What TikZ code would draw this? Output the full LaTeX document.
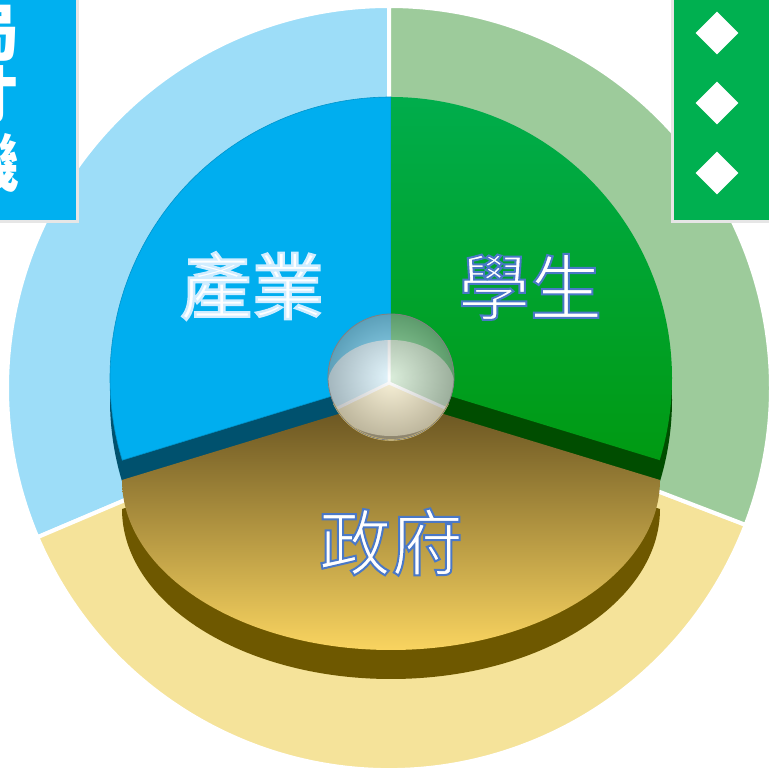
\documentclass[tikz,border=0pt]{standalone}
\usepackage{fontspec}
\usepackage{tikz}
\usepackage{xcolor}
\usetikzlibrary{shapes.geometric,positioning}
\newfontfamily\cjk{Noto Sans CJK TC}
\newcommand\outlinetext[3]{\special{pdf:literal direct #1 RG 2 Tr #2 w}#3\special{pdf:literal direct 0 Tr}}
\definecolor{ringblue}{HTML}{9DDDF8}
\definecolor{ringgreen}{HTML}{9DCB9B}
\definecolor{ringyellow}{HTML}{F5E39A}
\definecolor{boxblue}{HTML}{00B0F0}
\definecolor{boxgreen}{HTML}{00B050}
\definecolor{boxedge}{HTML}{E6E6E6}
\definecolor{bluetop}{HTML}{00AEEF}
\definecolor{blueside}{HTML}{00516E}
\definecolor{greentop}{HTML}{00AD4C}
\definecolor{greenbot}{HTML}{009A12}
\definecolor{greenside}{HTML}{004D00}
\definecolor{browntop}{HTML}{64501F}
\definecolor{brownmid}{HTML}{B39240}
\definecolor{brownbot}{HTML}{F9D460}
\definecolor{brownside}{HTML}{6E5800}
\definecolor{paleblue}{HTML}{D4F1FC}
\definecolor{palegreen}{HTML}{C6E3C6}
\definecolor{palecream}{HTML}{F8EDC6}
\definecolor{ballrim}{HTML}{E2C874}

\begin{document}
\begin{tikzpicture}[x=0.5pt,y=0.5pt,
   ringpart/.style={draw=white,line width=2pt},
   cornerbox/.style={draw=boxedge,line width=1.5pt},
   sidetext/.style={font=\cjk\bfseries\fontsize{31}{34}\selectfont,text=white,inner sep=0pt},
   marker/.style={diamond,fill=white,inner sep=0pt,minimum width=21.5pt,minimum height=21.5pt},
   pielabel/.style={font=\cjk\fontsize{36}{40}\selectfont,text=white,inner sep=0pt}]
   \useasboundingbox (0,0) rectangle (769,771);
   \coordinate (o) at (389,383);
   \coordinate (b) at (391,394);
   % outer ring
   \foreach \a/\e/\c in {90/203/ringblue,203/339/ringyellow,-21/90/ringgreen}
      \filldraw[ringpart,fill=\c] (o) -- ++(\a:382) arc[start angle=\a,end angle=\e,radius=382] -- cycle;
   % corner boxes
   \filldraw[cornerbox,fill=boxblue] (-10,549) rectangle (77,781);
   \filldraw[cornerbox,fill=boxgreen] (672,549) rectangle (780,781);
   \foreach \ch/\y [count=\i] in {局/738,才/676,機/608}
      \node[sidetext,anchor=east] (l_\i) at (20,\y) {\ch};
   \foreach \y [count=\i] in {738,668,598}
      \node[marker] (d_\i) at (717,\y) {};
   % pie
   \fill[blueside,shift={(0,-22)}] (391,393) -- ++(90:281) arc[start angle=90,end angle=197,radius=281] -- cycle;
   \filldraw[fill=bluetop,draw=bluetop!85!black,line width=0.3pt] (391,393) -- ++(90:281) arc[start angle=90,end angle=197,radius=281] -- cycle;
   \fill[greenside,shift={(0,-22)}] (391,393) -- ++(-17:281) arc[start angle=-17,end angle=90,radius=281] -- cycle;
   \shade[top color=greentop,bottom color=greenbot] (391,393) -- ++(-17:281) arc[start angle=-17,end angle=90,radius=281] -- cycle;
   \fill[brownside,shift={(0,-29)}] (391,373) -- (122,291) arc[start angle=180,end angle=360,x radius=269,y radius=170] -- cycle;
   \shade[top color=browntop,middle color=brownmid,bottom color=brownbot] (391,373) -- (122,291) arc[start angle=180,end angle=360,x radius=269,y radius=170] -- cycle;
   % labels
   \node[pielabel] (chanye) at (252,485) {\outlinetext{0.82 0.93 1}{1.2}{產業}};
   \node[pielabel] (xuesheng) at (530,484) {\outlinetext{0.29 0.47 0.78}{1.0}{學生}};
   \node[pielabel] (zhengfu) at (391,229) {\outlinetext{0.29 0.47 0.78}{1.0}{政府}};
   % glass ball
   \fill[white,opacity=0.4] (b) circle[radius=63];
   \begin{scope}
      \clip (b) circle[radius=63];
      \clip (391,383) ellipse[x radius=64,y radius=48];
      \fill[paleblue] (389,388) -- ++(90:80) arc[start angle=90,end angle=206,radius=80] -- cycle;
      \fill[palecream] (389,388) -- ++(206:80) arc[start angle=206,end angle=336,radius=80] -- cycle;
      \fill[palegreen] (389,388) -- ++(-24:80) arc[start angle=-24,end angle=90,radius=80] -- cycle;
      \draw[white,line width=1.5pt] (389,388) -- ++(90:80) (389,388) -- ++(206:80) (389,388) -- ++(-24:80);
   \end{scope}
   \shade[inner color=white,outer color=black!70,opacity=0.35] (b) circle[radius=63];
   \draw[ballrim,line width=0.8pt] (b) ++(205:63) arc[start angle=205,end angle=335,radius=63];
   \draw[black!50,line width=0.4pt] (b) circle[radius=63];
\end{tikzpicture}
\end{document}
